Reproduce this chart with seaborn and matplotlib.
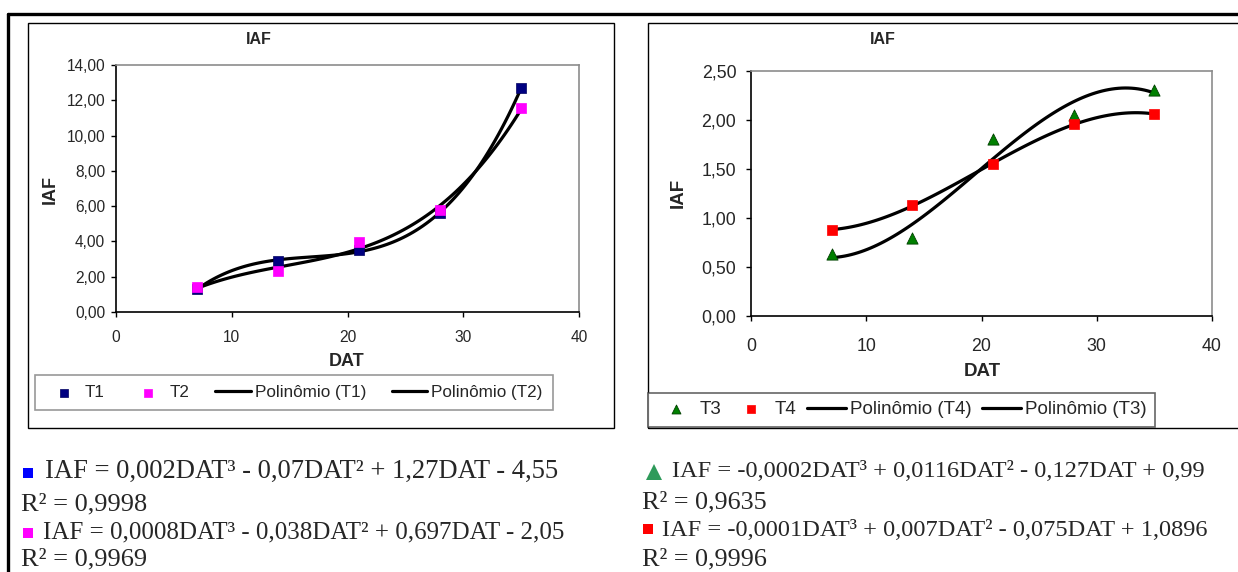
import numpy as np
import pandas as pd
import matplotlib
matplotlib.use("Agg")
import matplotlib.pyplot as plt
import seaborn as sns
from matplotlib.ticker import FuncFormatter, MultipleLocator
from matplotlib.lines import Line2D
from matplotlib.patches import Rectangle

# ---- data ----
dat = [7, 14, 21, 28, 35]
t1 = [1.30, 2.90, 3.50, 5.60, 12.70]
t2 = [1.40, 2.30, 3.95, 5.80, 11.55]
t3 = [0.63, 0.80, 1.81, 2.05, 2.31]
t4 = [0.88, 1.13, 1.55, 1.96, 2.06]

eq_left = ["IAF = 0,002DAT³ - 0,07DAT² + 1,27DAT - 4,55", "R² = 0,9998",
           "IAF = 0,0008DAT³ - 0,038DAT² + 0,697DAT - 2,05", "R² = 0,9969"]
eq_right = ["IAF = -0,0002DAT³ + 0,0116DAT² - 0,127DAT + 0,99", "R² = 0,9635",
            "IAF = -0,0001DAT³ + 0,007DAT² - 0,075DAT + 1,0896", "R² = 0,9996"]

sns.set_theme(style="white")
plt.rcParams["font.family"] = ["Liberation Sans", "DejaVu Sans"]

W, H = 1238, 572
fig = plt.figure(figsize=(W / 100, H / 100), dpi=100)
fig.patch.set_facecolor("white")


def fx(px):
    return px / W


def fy(py):
    return 1 - py / H


# outer frame lines
fig.add_artist(Line2D([fx(8), fx(1238)], [fy(14), fy(14)], color="black", lw=2.4))
fig.add_artist(Line2D([fx(8), fx(8)], [fy(14), fy(572)], color="black", lw=2.4))
# chart boxes
fig.add_artist(Rectangle((fx(28), fy(428)), fx(614 - 28), (428 - 23) / H, fill=False,
                         edgecolor="black", lw=1.0))
fig.add_artist(Rectangle((fx(648), fy(428)), fx(1250 - 648), (428 - 23) / H, fill=False,
                         edgecolor="black", lw=1.0))

fmt = FuncFormatter(lambda v, p: f"{v:.2f}".replace(".", ","))


def style_axes(ax, ymax, ystep, fs, xpad, ypad):
    ax.set_xlim(0, 40)
    ax.set_ylim(0, ymax)
    ax.xaxis.set_major_locator(MultipleLocator(10))
    ax.yaxis.set_major_locator(MultipleLocator(ystep))
    ax.yaxis.set_major_formatter(fmt)
    for s in ["left", "bottom"]:
        ax.spines[s].set_color("black")
        ax.spines[s].set_linewidth(1.2)
    for s in ["top", "right"]:
        ax.spines[s].set_color("#8c8c8c")
        ax.spines[s].set_linewidth(1.2)
    ax.tick_params(axis="both", which="major", direction="out", length=3.6, width=1,
                   color="black", labelsize=fs, left=True, bottom=True)
    ax.tick_params(axis="x", pad=xpad)
    ax.tick_params(axis="y", pad=ypad)
    ax.set_xlabel("")
    ax.set_ylabel("")
    ax.grid(False)


line_kw = dict(color="black", lw=2.3)

# ---- left chart ----
axL = fig.add_axes([fx(116), fy(312), fx(579 - 116), (312 - 65) / H])
dfL = pd.DataFrame({"DAT": dat, "T1": t1, "T2": t2})
sns.regplot(data=dfL, x="DAT", y="T1", order=3, ci=None, scatter=False, ax=axL,
            line_kws=line_kw, label="Polinômio (T1)")
sns.regplot(data=dfL, x="DAT", y="T2", order=3, ci=None, scatter=False, ax=axL,
            line_kws=line_kw, label="Polinômio (T2)")
sns.scatterplot(data=dfL, x="DAT", y="T1", marker="s", color="#000080", s=52,
                edgecolor="#000060", linewidth=0.5, ax=axL, label="T1", zorder=3)
sns.scatterplot(data=dfL, x="DAT", y="T2", marker="s", color="#ff00ff", s=52,
                edgecolor="#ff00ff", linewidth=0.5, ax=axL, label="T2", zorder=3)
style_axes(axL, 14, 2, 11.2, 9, 4.3)
h, l = axL.get_legend_handles_labels()
order = [l.index(k) for k in ["T1", "T2", "Polinômio (T1)", "Polinômio (T2)"]]
if axL.get_legend():
    axL.get_legend().remove()
legL = fig.legend([h[i] for i in order], [l[i] for i in order], ncol=4,
                  loc="center", bbox_to_anchor=(fx(294), fy(392.5)), frameon=True,
                  fancybox=False, edgecolor="#7f7f7f", fontsize=12.3, handlelength=2.1,
                  handletextpad=0.2, columnspacing=1.5, borderpad=0.6,
                  markerscale=0.8)
legL.get_frame().set_linewidth(1.2)

fig.text(fx(259), fy(40), "IAF", ha="center", va="center", fontsize=11.5,
         fontweight="bold")
fig.text(fx(50), fy(190), "IAF", ha="center", va="center", fontsize=13,
         fontweight="bold", rotation=90)
fig.text(fx(347), fy(362), "DAT", ha="center", va="center", fontsize=13, fontweight="bold")

# ---- right chart ----
axR = fig.add_axes([fx(751), fy(316), fx(1212 - 751), (316 - 71) / H])
dfR = pd.DataFrame({"DAT": dat, "T3": t3, "T4": t4})
sns.regplot(data=dfR, x="DAT", y="T4", order=3, ci=None, scatter=False, ax=axR,
            line_kws=line_kw, label="Polinômio (T4)")
sns.regplot(data=dfR, x="DAT", y="T3", order=3, ci=None, scatter=False, ax=axR,
            line_kws=line_kw, label="Polinômio (T3)")
sns.scatterplot(data=dfR, x="DAT", y="T3", marker="^", color="#008000", s=65,
                edgecolor="#004000", linewidth=0.6, ax=axR, label="T3", zorder=3)
sns.scatterplot(data=dfR, x="DAT", y="T4", marker="s", color="#ff0000", s=52,
                edgecolor="#ff0000", linewidth=0.5, ax=axR, label="T4", zorder=3)
style_axes(axR, 2.5, 0.5, 12.8, 12, 7)
h, l = axR.get_legend_handles_labels()
order = [l.index(k) for k in ["T3", "T4", "Polinômio (T4)", "Polinômio (T3)"]]
if axR.get_legend():
    axR.get_legend().remove()
legR = fig.legend([h[i] for i in order], [l[i] for i in order], ncol=4,
                  loc="center", bbox_to_anchor=(fx(901.5), fy(409.5)), frameon=True,
                  fancybox=False, edgecolor="#404040", fontsize=13.5, handlelength=2.1,
                  handletextpad=0.2, columnspacing=0.55, borderpad=0.45,
                  markerscale=0.8)
legR.get_frame().set_linewidth(1.2)

fig.text(fx(883), fy(40), "IAF", ha="center", va="center", fontsize=11.5,
         fontweight="bold")
fig.text(fx(678), fy(193), "IAF", ha="center", va="center", fontsize=13.5,
         fontweight="bold", rotation=90)
fig.text(fx(982), fy(371), "DAT", ha="center", va="center", fontsize=13.5, fontweight="bold")

# ---- equations ----
serif = ["Liberation Serif", "DejaVu Serif"]


def fig_marker(px, py, marker, color, size):
    fig.add_artist(Line2D([fx(px)], [fy(py)], marker=marker, color=color,
                          markersize=size, markeredgewidth=0, linestyle="none"))


fig_marker(27.5, 472.5, "s", "#0000ff", 6.8)
fig_marker(27.5, 532.5, "s", "#ff00ff", 6.8)
fig_marker(653.5, 472, "^", "#2e9a5a", 11.5)
fig_marker(648, 529, "s", "#ff0000", 7.2)

bl = [478, 510, 538, 565]
fig.text(fx(45), fy(bl[0]), eq_left[0], fontsize=19.2, family=serif, va="baseline")
fig.text(fx(21), fy(bl[1]), eq_left[1], fontsize=19, family=serif, va="baseline")
fig.text(fx(43), fy(bl[2]), eq_left[2], fontsize=18.0, family=serif, va="baseline")
fig.text(fx(21), fy(bl[3]), eq_left[3], fontsize=19, family=serif, va="baseline")

br = [477, 508, 536, 565]
fig.text(fx(672), fy(br[0]), eq_right[0], fontsize=17.6, family=serif, va="baseline")
fig.text(fx(642), fy(br[1]), eq_right[1], fontsize=18.8, family=serif, va="baseline")
fig.text(fx(662), fy(br[2]), eq_right[2], fontsize=17.6, family=serif, va="baseline")
fig.text(fx(642), fy(br[3]), eq_right[3], fontsize=18.8, family=serif, va="baseline")

fig.savefig("out.png", dpi=100)
